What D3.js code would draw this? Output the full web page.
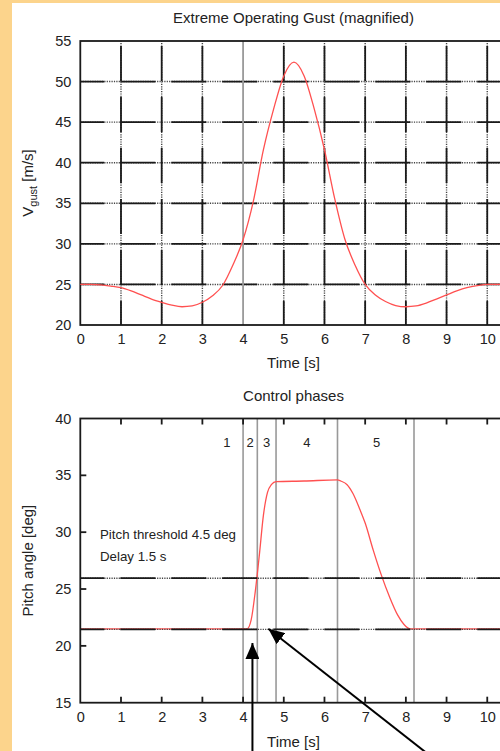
<!DOCTYPE html>
<html>
<head>
<meta charset="utf-8">
<style>
body { margin: 0; background: #fff; }
text { font-family: "Liberation Sans", Arial, sans-serif; fill: #222; }
.axis text { font-size: 14.5px; font-family: "Liberation Sans", Arial, sans-serif; fill: #222; }
</style>
</head>
<body>
<script src="https://cdn.jsdelivr.net/npm/d3@7"></script>
<script>
// gust speed
var gustTime  = [0, 0.25, 0.5, 0.75, 1, 1.25, 1.5, 1.75, 2, 2.25, 2.5, 2.75, 3, 3.25, 3.5, 3.75, 4, 4.25, 4.5, 4.75, 5, 5.25, 5.5, 5.75, 6, 6.25, 6.5, 6.75, 7, 7.25, 7.5, 7.75, 8, 8.25, 8.5, 8.75, 9, 9.25, 9.5, 9.75, 10, 10.25, 10.5];
var gustSpeed = [25, 25, 24.95, 24.8, 24.6, 24.2, 23.7, 23.2, 22.8, 22.45, 22.25, 22.35, 22.8, 23.6, 24.9, 27.4, 30.5, 35.2, 41.6, 46.6, 50.7, 52.4, 50.7, 46.6, 41.6, 35.6, 30.6, 27.4, 25, 23.7, 22.9, 22.4, 22.25, 22.35, 22.7, 23.2, 23.7, 24.2, 24.6, 24.85, 25, 25, 25];

// pitch angle
var pitchTime  = [0, 4.1, 4.2, 4.3, 4.4, 4.5, 4.6, 4.7, 4.81, 5.5, 6.32, 6.4, 6.55, 6.7, 6.87, 7, 7.2, 7.4, 7.6, 7.8, 7.95, 8.1, 10.5];
var pitchAngle = [21.5, 21.5, 22.3, 24.8, 28.0, 31.5, 33.5, 34.2, 34.45, 34.5, 34.6, 34.5, 34.2, 33.4, 32.0, 30.8, 28.4, 26.2, 24.3, 22.7, 21.9, 21.5, 21.5];

var phaseBounds = [4.0, 4.35, 4.81, 6.32, 8.2];
var phaseNames  = ["1", "2", "3", "4", "5"];
var phaseMid    = [3.6, 4.17, 4.58, 5.57, 7.28];
var thresholds  = [25.95, 21.45];

var timeTicks  = [0, 1, 2, 3, 4, 5, 6, 7, 8, 9, 10];
var gustTicks  = [20, 25, 30, 35, 40, 45, 50, 55];
var pitchTicks = [15, 20, 25, 30, 35, 40];

// arrows [t0, p0, t1, p1] in pitch-plot units, pointing at the tip (t1, p1)
var arrows = [[4.23, 9.5, 4.23, 20.25], [8.75, 9.9, 4.62, 21.5]];

var width = 500, height = 751;
var svg = d3.select("body").append("svg")
    .attr("width", width)
    .attr("height", height);

// peach frame on the left and top
svg.append("rect").attr("x", 0).attr("y", 0).attr("width", 12).attr("height", height).attr("fill", "#fcd48c");
svg.append("rect").attr("x", 0).attr("y", 0).attr("width", width).attr("height", 3).attr("fill", "#fcd48c");

var x = d3.scaleLinear().domain([0, 10.5]).range([80.3, 507.6]);
var yG = d3.scaleLinear().domain([20, 55]).range([325, 41]);
var yP = d3.scaleLinear().domain([15, 40]).range([702.7, 418.5]);

var ink = "#1a1a1a";

// gnuplot style dashed line: solid dashes with dotted gaps
function gnuLine(g, x1, y1, x2, y2) {
  g.append("line").attr("x1", x1).attr("y1", y1).attr("x2", x2).attr("y2", y2)
      .attr("stroke", "#444").attr("stroke-width", 1.4).attr("stroke-dasharray", "1.2 1.2");
  g.append("line").attr("x1", x1).attr("y1", y1).attr("x2", x2).attr("y2", y2)
      .attr("stroke", ink).attr("stroke-width", 1.8)
      .attr("stroke-dasharray", "35 16").attr("stroke-dashoffset", 11);
}

// ---------- upper plot ----------
var gTop = svg.append("g");

gTop.append("text")
    .attr("x", 293.5).attr("y", 23)
    .attr("text-anchor", "middle")
    .style("font-size", "15px")
    .text("Extreme Operating Gust (magnified)");

var grid = gTop.append("g");
gustTicks.slice(1, -1).forEach(function(v) {
  gnuLine(grid, x.range()[0], yG(v), x.range()[1], yG(v));
});
timeTicks.slice(1).forEach(function(t) {
  if (t == 4) {
    grid.append("line").attr("x1", x(t)).attr("x2", x(t))
        .attr("y1", yG(20)).attr("y2", yG(55))
        .attr("stroke", "#999").attr("stroke-width", 1.8);
  } else {
    gnuLine(grid, x(t), yG(20), x(t), yG(55));
  }
});

gTop.append("rect")
    .attr("x", x.range()[0]).attr("y", yG(55))
    .attr("width", x.range()[1] - x.range()[0]).attr("height", yG(20) - yG(55))
    .attr("fill", "none").attr("stroke", ink).attr("stroke-width", 1.8);

var gustLine = d3.line()
    .x(function(d, i) { return x(gustTime[i]); })
    .y(function(d) { return yG(d); })
    .curve(d3.curveMonotoneX);

gTop.append("path")
    .attr("d", gustLine(gustSpeed))
    .attr("fill", "none")
    .attr("stroke", "#ff5050")
    .attr("stroke-width", 1.3);

gTop.append("g").attr("class", "axis")
    .attr("transform", "translate(0," + yG(20) + ")")
    .call(d3.axisBottom(x).tickValues(timeTicks).tickSize(0).tickPadding(9))
    .call(function(g) { g.select(".domain").remove(); });

gTop.append("g").attr("class", "axis")
    .attr("transform", "translate(" + x(0) + ",0)")
    .call(d3.axisLeft(yG).tickValues(gustTicks).tickSize(0).tickPadding(9))
    .call(function(g) { g.select(".domain").remove(); });

gTop.append("text")
    .attr("x", 293.5).attr("y", 368)
    .attr("text-anchor", "middle")
    .style("font-size", "15px")
    .text("Time [s]");

var vlab = gTop.append("text")
    .attr("transform", "translate(33," + ((yG(20) + yG(55)) / 2) + ") rotate(-90)")
    .attr("text-anchor", "middle")
    .style("font-size", "15px");
vlab.append("tspan").text("V");
vlab.append("tspan").attr("dy", 3.5).style("font-size", "11px").text("gust");
vlab.append("tspan").attr("dy", -3.5).text(" [m/s]");

// ---------- lower plot ----------
var gBot = svg.append("g");

gBot.append("text")
    .attr("x", 293.5).attr("y", 401)
    .attr("text-anchor", "middle")
    .style("font-size", "15px")
    .text("Control phases");

gBot.selectAll(".phase")
    .data(phaseBounds)
    .enter().append("line")
    .attr("class", "phase")
    .attr("x1", function(d) { return x(d); })
    .attr("x2", function(d) { return x(d); })
    .attr("y1", yP(15)).attr("y2", yP(40))
    .attr("stroke", "#999").attr("stroke-width", 1.6);

gBot.selectAll(".phase-label")
    .data(phaseNames)
    .enter().append("text")
    .attr("class", "phase-label")
    .attr("x", function(d, i) { return x(phaseMid[i]); })
    .attr("y", 447)
    .attr("text-anchor", "middle")
    .style("font-size", "13px")
    .text(function(d) { return d; });

// inward ticks
timeTicks.slice(1).forEach(function(t) {
  gBot.append("line").attr("x1", x(t)).attr("x2", x(t)).attr("y1", yP(15)).attr("y2", yP(15) - 6)
      .attr("stroke", ink).attr("stroke-width", 1.8);
  gBot.append("line").attr("x1", x(t)).attr("x2", x(t)).attr("y1", yP(40)).attr("y2", yP(40) + 6)
      .attr("stroke", ink).attr("stroke-width", 1.8);
});
pitchTicks.slice(1, -1).forEach(function(v) {
  gBot.append("line").attr("x1", x(0)).attr("x2", x(0) + 6).attr("y1", yP(v)).attr("y2", yP(v))
      .attr("stroke", ink).attr("stroke-width", 1.8);
});

var pitchLine = d3.line()
    .x(function(d, i) { return x(pitchTime[i]); })
    .y(function(d) { return yP(d); })
    .curve(d3.curveMonotoneX);

gBot.append("path")
    .attr("d", pitchLine(pitchAngle))
    .attr("fill", "none")
    .attr("stroke", "#ff5050")
    .attr("stroke-width", 1.3);

thresholds.forEach(function(v) {
  gnuLine(gBot, x.range()[0], yP(v), x.range()[1], yP(v));
});

gBot.append("rect")
    .attr("x", x.range()[0]).attr("y", yP(40))
    .attr("width", x.range()[1] - x.range()[0]).attr("height", yP(15) - yP(40))
    .attr("fill", "none").attr("stroke", ink).attr("stroke-width", 1.8);

gBot.append("text").attr("x", 100).attr("y", 538.5).style("font-size", "13.3px").text("Pitch threshold 4.5 deg");
gBot.append("text").attr("x", 100).attr("y", 560.5).style("font-size", "13.3px").text("Delay 1.5 s");

gBot.append("g").attr("class", "axis")
    .attr("transform", "translate(0," + yP(15) + ")")
    .call(d3.axisBottom(x).tickValues(timeTicks).tickSize(0).tickPadding(9))
    .call(function(g) { g.select(".domain").remove(); });

gBot.append("g").attr("class", "axis")
    .attr("transform", "translate(" + x(0) + ",0)")
    .call(d3.axisLeft(yP).tickValues(pitchTicks).tickSize(0).tickPadding(9))
    .call(function(g) { g.select(".domain").remove(); });

gBot.append("text")
    .attr("x", 293.5).attr("y", 747)
    .attr("text-anchor", "middle")
    .style("font-size", "15px")
    .text("Time [s]");

gBot.append("text")
    .attr("transform", "translate(33," + ((yP(15) + yP(40)) / 2) + ") rotate(-90)")
    .attr("text-anchor", "middle")
    .style("font-size", "15px")
    .text("Pitch angle [deg]");

// annotation arrows
svg.append("defs").append("marker")
    .attr("id", "head")
    .attr("viewBox", "0 0 16 14")
    .attr("refX", 16).attr("refY", 7)
    .attr("markerWidth", 16).attr("markerHeight", 14)
    .attr("markerUnits", "userSpaceOnUse")
    .attr("orient", "auto")
  .append("path")
    .attr("d", "M0,0L16,7L0,14Z")
    .attr("fill", "#000");

svg.selectAll(".arrow")
    .data(arrows)
    .enter().append("line")
    .attr("class", "arrow")
    .attr("x1", function(d) { return x(d[0]); })
    .attr("y1", function(d) { return yP(d[1]); })
    .attr("x2", function(d) { return x(d[2]); })
    .attr("y2", function(d) { return yP(d[3]); })
    .attr("stroke", "#000")
    .attr("stroke-width", 2)
    .attr("marker-end", "url(#head)");
</script>
</body>
</html>
